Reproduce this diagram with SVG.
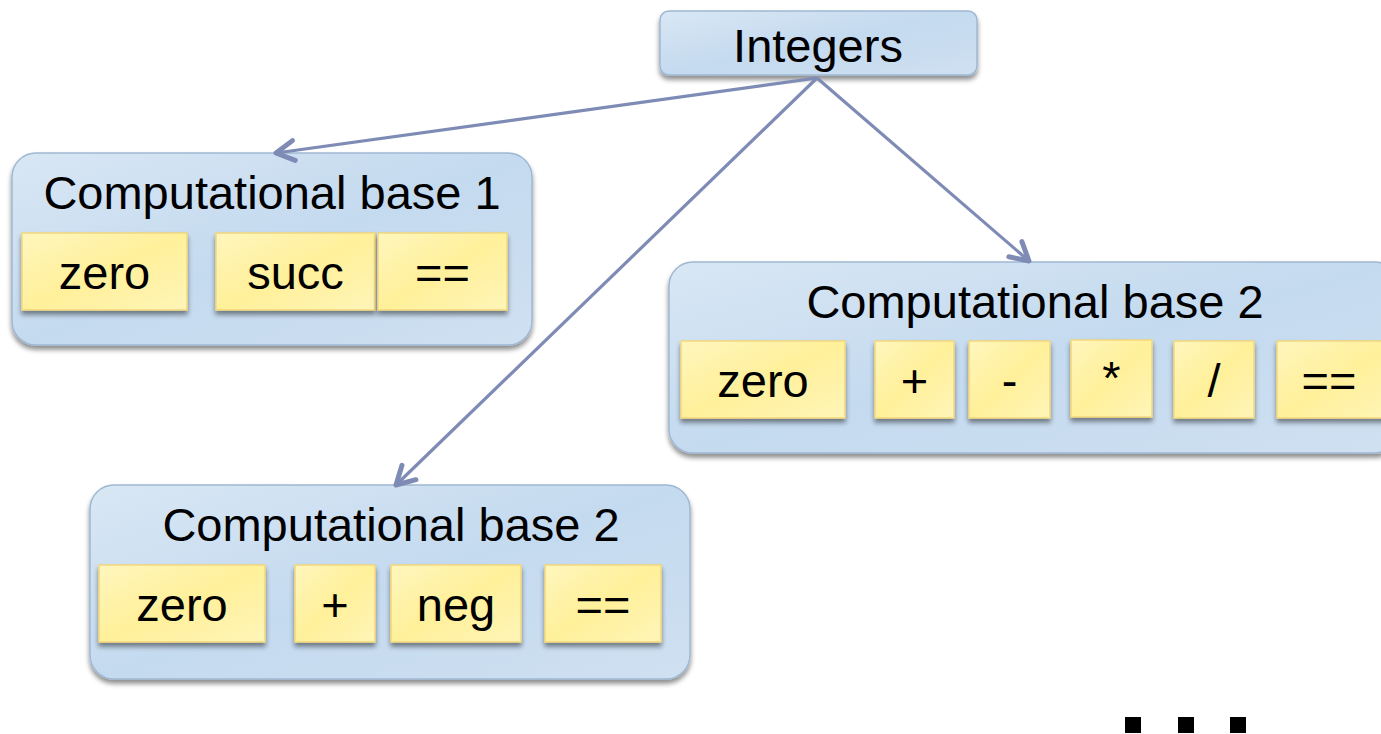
<svg xmlns="http://www.w3.org/2000/svg" width="1381" height="734" viewBox="0 0 1381 734">
<defs>
<linearGradient id="gb" x1="0" y1="0" x2="1" y2="1">
<stop offset="0" stop-color="#d9e7f4"/>
<stop offset="0.5" stop-color="#c4daef"/>
<stop offset="1" stop-color="#cfe0f1"/>
</linearGradient>
<linearGradient id="gy" x1="0" y1="0" x2="1" y2="1">
<stop offset="0" stop-color="#fff6bd"/>
<stop offset="0.5" stop-color="#fff09a"/>
<stop offset="1" stop-color="#fff5b8"/>
</linearGradient>
<filter id="sh" x="-10%" y="-10%" width="120%" height="130%">
<feGaussianBlur in="SourceAlpha" stdDeviation="2.5"/>
<feOffset dx="0" dy="4" result="b"/>
<feComponentTransfer><feFuncA type="linear" slope="0.45"/></feComponentTransfer>
<feMerge><feMergeNode/><feMergeNode in="SourceGraphic"/></feMerge>
</filter>
<marker id="ah" viewBox="0 0 30 30" refX="26" refY="15" markerWidth="30" markerHeight="30" markerUnits="userSpaceOnUse" orient="auto" overflow="visible">
<path d="M8,5 L26,15 L8,25" fill="none" stroke="#7e8bb5" stroke-width="5" stroke-linecap="round" stroke-linejoin="round"/>
</marker>
<style>
.grp{fill:url(#gb);stroke:#9fb8d2;stroke-width:1.5;filter:url(#sh)}
.itm{fill:url(#gy);stroke:#f3d77c;stroke-width:1.5;filter:url(#sh)}
.t{font-family:"Liberation Sans",Arial,sans-serif;font-size:47px;fill:#000;text-anchor:middle}
.c{fill:none;stroke:#7e8bb5;stroke-width:3.2;marker-end:url(#ah)}
</style>
</defs>
<rect width="1381" height="734" fill="#fff"/>
<g id="integers">
<rect class="grp" x="660" y="11" width="317" height="64" rx="9"/>
<text class="t" x="818" y="62">Integers</text>
</g>
<g id="base1">
<rect class="grp" x="12" y="153" width="520" height="192" rx="24"/>
<text class="t" x="272" y="209">Computational base 1</text>
<g id="base1-zero"><rect class="itm" x="22" y="233" width="165" height="77"/><text class="t" x="104.5" y="289">zero</text></g>
<g id="base1-succ"><rect class="itm" x="216" y="233" width="159" height="77"/><text class="t" x="295.5" y="289">succ</text></g>
<g id="base1-eq"><rect class="itm" x="378" y="233" width="129" height="77"/><text class="t" x="442.5" y="289">==</text></g>
</g>
<g id="base2-right">
<rect class="grp" x="669" y="262" width="730" height="191" rx="24"/>
<text class="t" x="1035" y="318">Computational base 2</text>
<g id="r-zero"><rect class="itm" x="681" y="341" width="164" height="77"/><text class="t" x="763" y="397">zero</text></g>
<g id="r-plus"><rect class="itm" x="875" y="341" width="79" height="77"/><text class="t" x="914.5" y="397">+</text></g>
<g id="r-minus"><rect class="itm" x="969" y="341" width="81" height="77"/><text class="t" x="1009.5" y="397">-</text></g>
<g id="r-mul"><rect class="itm" x="1071" y="340" width="81" height="77"/><text class="t" x="1111.5" y="394">*</text></g>
<g id="r-div"><rect class="itm" x="1174" y="341" width="80" height="77"/><text class="t" x="1214" y="397">/</text></g>
<g id="r-eq"><rect class="itm" x="1277" y="341" width="120" height="77"/><text class="t" x="1329" y="397">==</text></g>
</g>
<g id="base2-left">
<rect class="grp" x="90" y="485" width="600" height="194" rx="24"/>
<text class="t" x="391" y="541">Computational base 2</text>
<g id="l-zero"><rect class="itm" x="99" y="565" width="166" height="77"/><text class="t" x="182" y="621">zero</text></g>
<g id="l-plus"><rect class="itm" x="295" y="565" width="80" height="77"/><text class="t" x="335" y="621">+</text></g>
<g id="l-neg"><rect class="itm" x="391" y="565" width="130" height="77"/><text class="t" x="456" y="621">neg</text></g>
<g id="l-eq"><rect class="itm" x="545" y="565" width="116" height="77"/><text class="t" x="603" y="621">==</text></g>
</g>
<g id="connectors">
<line class="c" x1="817" y1="78" x2="276" y2="153"/>
<line class="c" x1="817" y1="78" x2="1029" y2="261"/>
<line class="c" x1="817" y1="78" x2="396" y2="485"/>
</g>
<g id="ellipsis" fill="#000">
<rect x="1125" y="717" width="16" height="16"/>
<rect x="1178" y="717" width="16" height="16"/>
<rect x="1230" y="717" width="16" height="16"/>
</g>
</svg>
